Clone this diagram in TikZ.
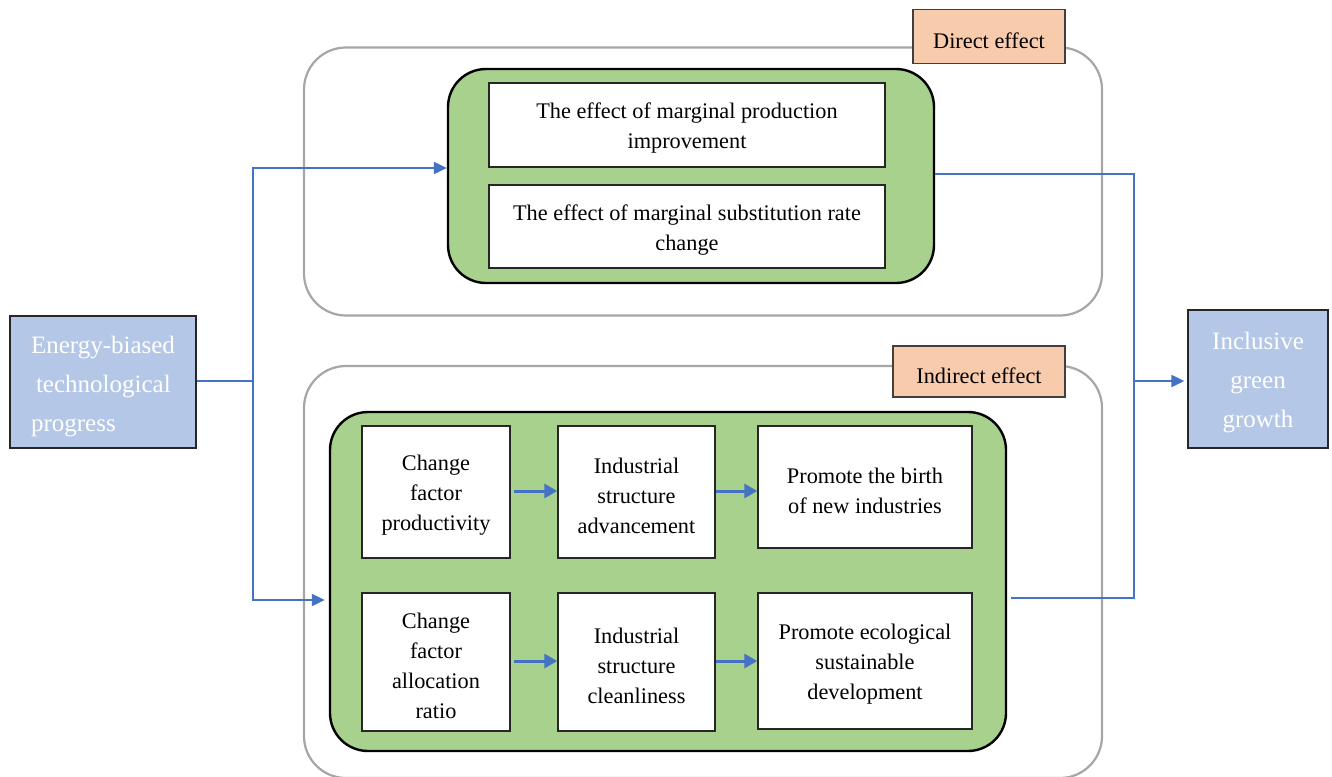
\documentclass[tikz,border=0pt]{standalone}
\usepackage{fontspec}
\setmainfont{Liberation Serif}
\usetikzlibrary{arrows.meta,calc}
\definecolor{arrowblue}{HTML}{4472C4}
\definecolor{boxblue}{HTML}{B4C7E7}
\definecolor{leafgreen}{HTML}{A9D18E}
\definecolor{peach}{HTML}{F8CBAD}
\definecolor{framegray}{HTML}{A6A6A6}
\tikzset{
  graybox/.style={draw=framegray, line width=2.2pt, rounded corners=42pt, inner sep=0pt},
  greenbox/.style={draw=black, fill=leafgreen, line width=2.4pt, rounded corners=38pt, inner sep=0pt},
  whitebox/.style={draw=black!85, fill=white, line width=1.4pt, inner sep=0pt},
  wtext/.style={inner sep=0pt, align=center, font=\fontsize{22.3}{30}\selectfont},
  labelbox/.style={draw=black!75, fill=peach, line width=1.2pt, inner sep=0pt},
  ltext/.style={inner sep=0pt, font=\fontsize{22.3}{26}\selectfont},
  bluebox/.style={draw=black!85, fill=boxblue, line width=1.4pt, inner sep=0pt},
  btext/.style={inner sep=0pt, text=white, font=\fontsize{25}{39}\selectfont},
  conn/.style={draw=arrowblue, line width=2.2pt},
  arr/.style={conn, -{Triangle[length=13pt,width=12pt]}},
  iarr/.style={draw=arrowblue, line width=3pt, -{Triangle[length=13pt,width=14pt]}},
}
\begin{document}
\begin{tikzpicture}[x=1pt,y=-1pt]
\useasboundingbox (0,0) rectangle (1332,776);
\begin{scope}
\clip (0,0) rectangle (1332,776);
% gray frames
\node[graybox, minimum width=798, minimum height=268] (dframe) at (703,181.5) {};
\node[graybox, minimum width=798, minimum height=412] (iframe) at (703,572) {};
% labels
\node[labelbox, minimum width=152, minimum height=54] (dlabel) at (989,36.5) {};
\node[ltext] (dlabeltext) at ([yshift=-4pt]dlabel.center) {Direct effect};
\node[labelbox, minimum width=172, minimum height=51] (ilabel) at (979,371.5) {};
\node[ltext] (ilabeltext) at ([yshift=-4pt]ilabel.center) {Indirect effect};
% green containers
\node[greenbox, minimum width=486, minimum height=214] (dgreen) at (691,176) {};
\node[greenbox, minimum width=676, minimum height=339] (igreen) at (668,581.5) {};
% direct inner boxes
\node[whitebox, minimum width=396, minimum height=84] (d1) at (687,125) {};
\node[wtext] (d1t) at ([yshift=-3.5pt]d1.center) {The effect of marginal production\\improvement};
\node[whitebox, minimum width=396, minimum height=83] (d2) at (687,226.5) {};
\node[wtext] (d2t) at ([yshift=-3.5pt]d2.center) {The effect of marginal substitution rate\\change};
% indirect inner boxes
\node[whitebox, minimum width=148, minimum height=132] (a1) at (436,492) {};
\node[wtext] (a1t) at ([yshift=-3.5pt]a1.center) {Change\\factor\\productivity};
\node[whitebox, minimum width=157, minimum height=132] (a2) at (636.5,492) {};
\node[wtext] (a2t) at ([yshift=-3.5pt]a2.center) {Industrial\\structure\\advancement};
\node[whitebox, minimum width=214, minimum height=122] (a3) at (865,487) {};
\node[wtext] (a3t) at ([yshift=-3.5pt]a3.center) {Promote the birth\\of new industries};
\node[whitebox, minimum width=148, minimum height=138] (b1) at (436,662) {};
\node[wtext] (b1t) at ([yshift=-3.5pt]b1.center) {Change\\factor\\allocation\\ratio};
\node[whitebox, minimum width=157, minimum height=138] (b2) at (636.5,662) {};
\node[wtext] (b2t) at ([yshift=-3.5pt]b2.center) {Industrial\\structure\\cleanliness};
\node[whitebox, minimum width=214, minimum height=136] (b3) at (865,661) {};
\node[wtext] (b3t) at ([yshift=-3.5pt]b3.center) {Promote ecological\\sustainable\\development};
\end{scope}
% source and target
\node[bluebox, minimum width=186, minimum height=132] (src) at (103,382) {};
\node[btext, align=left] (srct) at ([yshift=-5pt]src.center) {Energy-biased\\\hspace*{5pt}technological\\progress};
\node[bluebox, minimum width=140, minimum height=138] (dst) at (1258,379) {};
\node[btext, align=center] (dstt) at ([yshift=-4pt]dst.center) {Inclusive\\green\\growth};
% inner arrows
\coordinate (r1) at (0,491);
\coordinate (r2) at (0,661);
\draw[iarr] ([xshift=3pt]a1.east |- r1) -- (a2.west |- r1);
\draw[iarr] (a2.east |- r1) -- (a3.west |- r1);
\draw[iarr] ([xshift=3pt]b1.east |- r2) -- (b2.west |- r2);
\draw[iarr] (b2.east |- r2) -- (b3.west |- r2);
% main connectors
\coordinate (j) at (253,381);
\coordinate (kt) at (1134,174);
\coordinate (kb) at (1134,598);
\coordinate (k) at (1134,381);
\draw[conn] (src.east |- j) -- (j);
\draw[arr] (j) |- ([yshift=8pt]dgreen.west);
\draw[arr, shorten >=4pt] (j) |- ([yshift=-18.5pt]igreen.west);
\draw[conn] ([yshift=2pt]dgreen.east) -- (kt) -- (kb) -- ([xshift=4pt,yshift=-16.5pt]igreen.east);
\draw[arr, shorten >=3pt] (k) -- (dst.west |- k);
\end{tikzpicture}
\end{document}
